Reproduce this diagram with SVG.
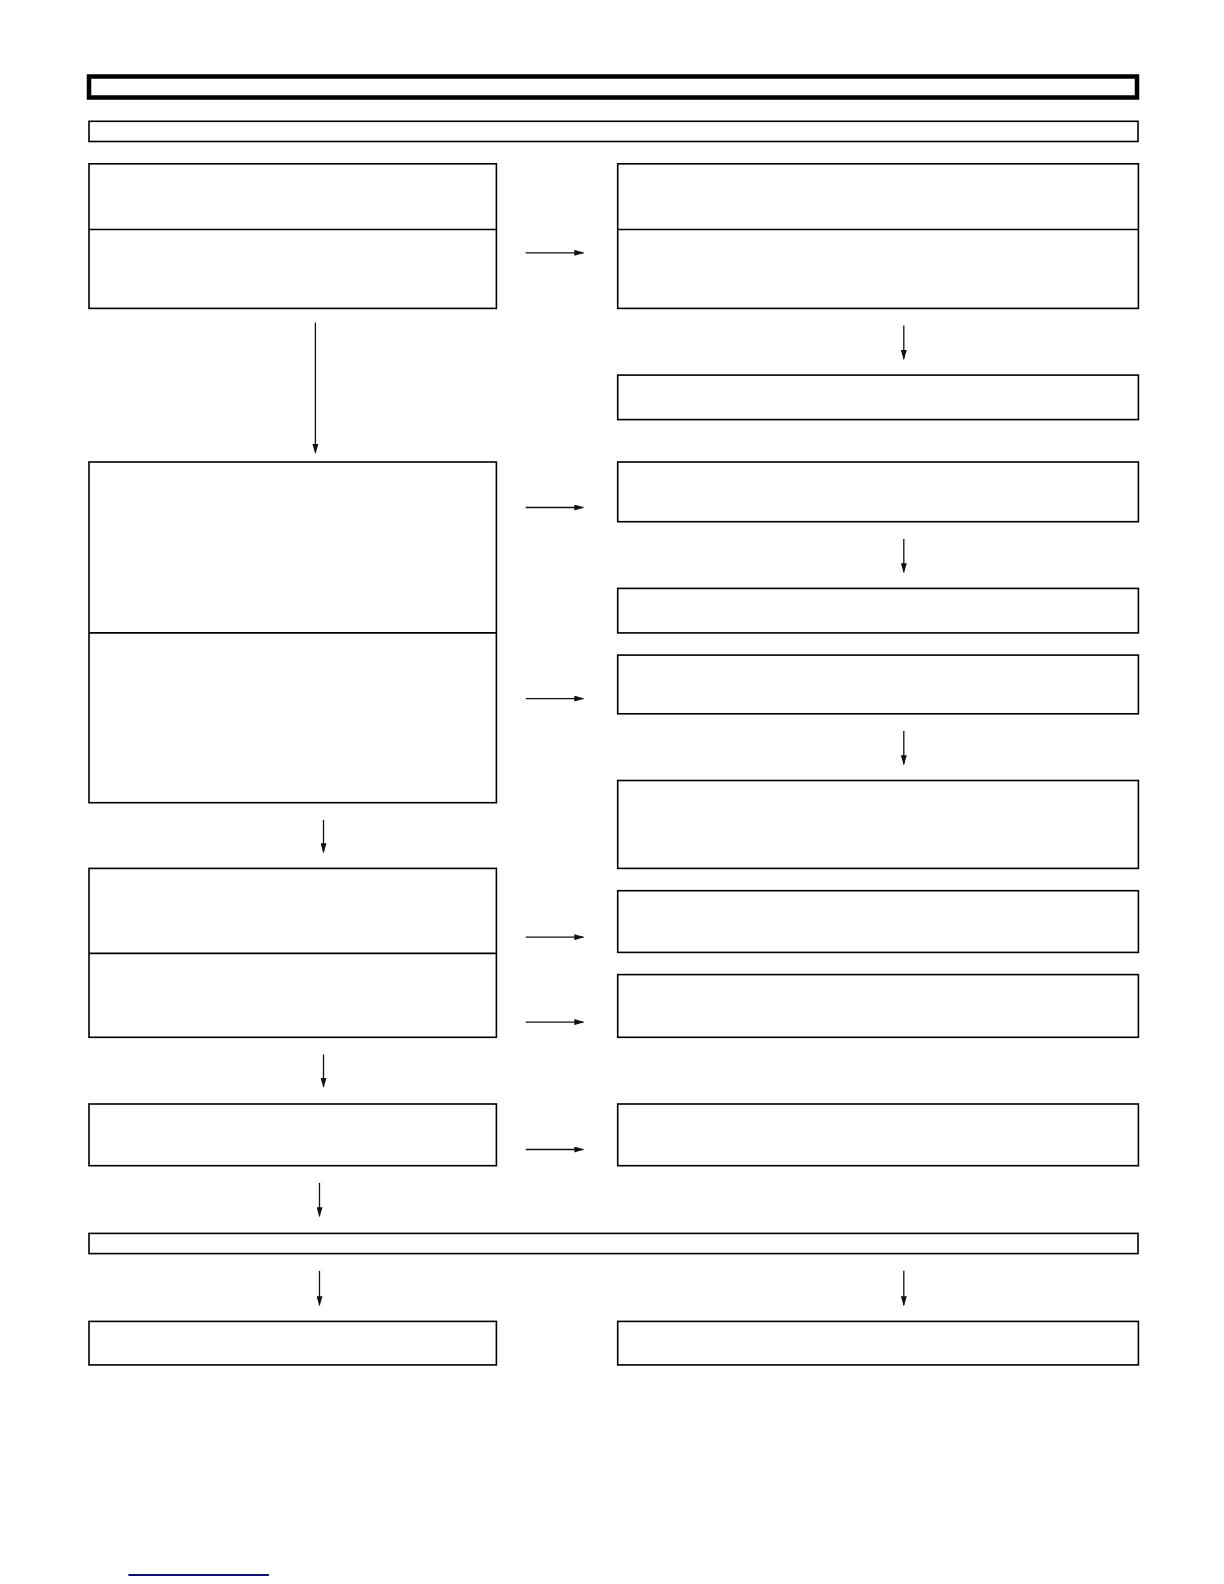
<svg xmlns="http://www.w3.org/2000/svg" width="1224" height="1584" viewBox="0 0 1224 1584">
<defs>
<marker id="ah" markerWidth="10" markerHeight="6" refX="9" refY="3" orient="auto" markerUnits="userSpaceOnUse">
<path d="M0,0 L10,3 L0,6 Z" fill="#111"/>
</marker>
<style>
.box{fill:#fff;stroke:#000;stroke-width:1.6}
.div{stroke:#000;stroke-width:1.6}
.conn{stroke:#111;stroke-width:1.3;fill:none;marker-end:url(#ah)}
</style>
</defs>
<rect x="0" y="0" width="1224" height="1584" fill="#fff"/>
<g id="title"><rect x="89" y="76.5" width="1048" height="21" fill="#fff" stroke="#000" stroke-width="4.5"/></g>
<g id="header"><rect class="box" x="89" y="121.3" width="1049" height="20.2"/></g>
<g id="L1"><rect class="box" x="89" y="163.8" width="407.4" height="144.6"/><line class="div" x1="89" y1="229.5" x2="496.4" y2="229.5"/></g>
<g id="R1"><rect class="box" x="617.7" y="163.8" width="520.7" height="144.6"/><line class="div" x1="617.7" y1="229.5" x2="1138.4" y2="229.5"/></g>
<g id="R2"><rect class="box" x="617.7" y="375.1" width="520.7" height="44.5"/></g>
<g id="L2"><rect class="box" x="89" y="462" width="407.4" height="340.7"/><line class="div" x1="89" y1="632.9" x2="496.4" y2="632.9"/></g>
<g id="R3"><rect class="box" x="617.7" y="462" width="520.7" height="59.7"/></g>
<g id="R4"><rect class="box" x="617.7" y="588.4" width="520.7" height="44.5"/></g>
<g id="R5"><rect class="box" x="617.7" y="655.1" width="520.7" height="58.7"/></g>
<g id="R6"><rect class="box" x="617.7" y="780.5" width="520.7" height="87.9"/></g>
<g id="L3"><rect class="box" x="89" y="868.4" width="407.4" height="168.9"/><line class="div" x1="89" y1="953.4" x2="496.4" y2="953.4"/></g>
<g id="R7"><rect class="box" x="617.7" y="890.7" width="520.7" height="61.7"/></g>
<g id="R8"><rect class="box" x="617.7" y="974.6" width="520.7" height="62.7"/></g>
<g id="L4"><rect class="box" x="89" y="1104" width="407.4" height="61.7"/></g>
<g id="R9"><rect class="box" x="617.7" y="1104" width="520.7" height="61.7"/></g>
<g id="bar"><rect class="box" x="89" y="1233.4" width="1049" height="20.2"/></g>
<g id="L5"><rect class="box" x="89" y="1321.4" width="407.4" height="43.5"/></g>
<g id="R10"><rect class="box" x="617.7" y="1321.4" width="520.7" height="43.5"/></g>
<g id="connectors">
<line class="conn" x1="525.7" y1="252.8" x2="583.3" y2="252.8"/>
<line class="conn" x1="315.4" y1="322.5" x2="315.4" y2="452.9"/>
<line class="conn" x1="903.8" y1="325.5" x2="903.8" y2="358.9"/>
<line class="conn" x1="525.7" y1="507.5" x2="583.3" y2="507.5"/>
<line class="conn" x1="903.8" y1="538.9" x2="903.8" y2="572.2"/>
<line class="conn" x1="525.7" y1="698.6" x2="583.3" y2="698.6"/>
<line class="conn" x1="903.8" y1="731" x2="903.8" y2="764.3"/>
<line class="conn" x1="323.5" y1="819.9" x2="323.5" y2="852.3"/>
<line class="conn" x1="525.7" y1="937.2" x2="583.3" y2="937.2"/>
<line class="conn" x1="525.7" y1="1022.1" x2="583.3" y2="1022.1"/>
<line class="conn" x1="323.5" y1="1054.5" x2="323.5" y2="1086.8"/>
<line class="conn" x1="525.7" y1="1149.5" x2="583.3" y2="1149.5"/>
<line class="conn" x1="319.5" y1="1182.9" x2="319.5" y2="1216.2"/>
<line class="conn" x1="319.5" y1="1270.8" x2="319.5" y2="1305.2"/>
<line class="conn" x1="903.8" y1="1270.8" x2="903.8" y2="1305.2"/>
</g>
<line x1="128.4" y1="1575" x2="268.9" y2="1575" stroke="#101070" stroke-width="2"/>
</svg>
